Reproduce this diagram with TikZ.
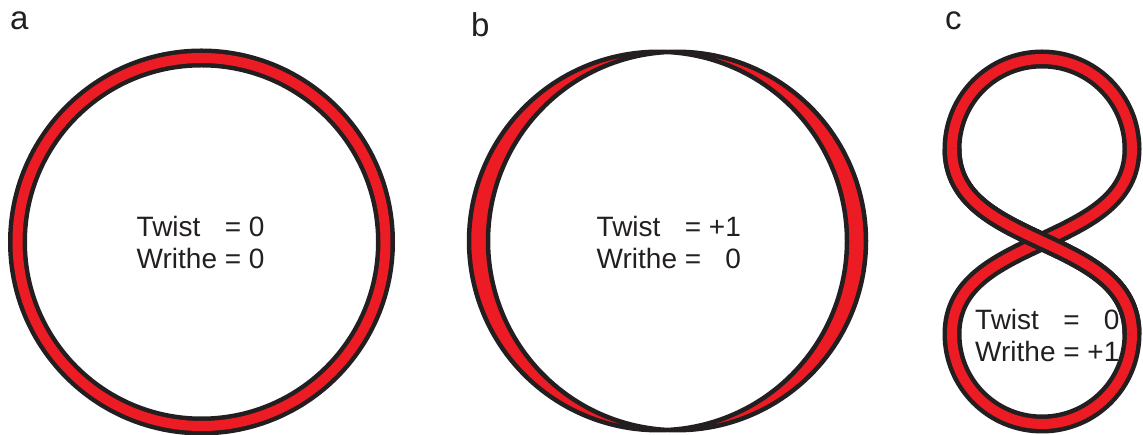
\documentclass[tikz,border=0pt]{standalone}
\usepackage{fontspec}
\setmainfont{Liberation Sans}
\definecolor{ribred}{HTML}{ED1C24}
\definecolor{ink}{HTML}{231F20}

\begin{document}
\begin{tikzpicture}[x=1pt, y=1pt,
    edge/.style={draw=ink, line width=19pt},
    core/.style={draw=ribred, line width=10pt},
    tag/.style={anchor=base west, inner sep=0pt, text=ink, font=\fontsize{33}{36}\selectfont},
    val/.style={anchor=base west, inner sep=0pt, text=ink, font=\fontsize{28}{31.5}\selectfont},
    declare function={tw(\t)=cos(\t);}
]
\useasboundingbox (0,0) rectangle (1143,435);

% a: flat ring
\coordinate (ca) at (201.5,193);
\draw[edge] (ca) circle[radius=184pt];
\draw[core] (ca) circle[radius=184pt];

% b: ring with one twist
\filldraw[fill=ribred, draw=ink, line width=4.5pt, even odd rule]
  plot[domain=0:360, samples=200] ({667.5+(189+9.5*tw(\x))*cos(\x)}, {194+(189+9.5*tw(\x))*sin(\x)}) -- cycle
  plot[domain=0:360, samples=200] ({667.5+(189-9.5*tw(\x))*cos(\x)}, {194+(189-9.5*tw(\x))*sin(\x)}) -- cycle;

% c: figure eight
\coordinate (x8) at (1042,193.5);
\coordinate (ur) at (1132,286);
\coordinate (ut) at (1042,376);
\coordinate (ul) at (952,286);
\coordinate (lr) at (1132,101);
\coordinate (lb) at (1042,11);
\coordinate (ll) at (952,101);
\draw[edge] (x8) to[out=25,in=-90] (ur) to[out=90,in=0] (ut) to[out=180,in=90] (ul) to[out=-90,in=155] (x8)
  to[out=-25,in=90] (lr) to[out=-90,in=0] (lb) to[out=180,in=-90] (ll) to[out=90,in=205] (x8);
\draw[core] (x8) to[out=25,in=-90] (ur) to[out=90,in=0] (ut) to[out=180,in=90] (ul) to[out=-90,in=155] (x8)
  to[out=-25,in=90] (lr) to[out=-90,in=0] (lb) to[out=180,in=-90] (ll) to[out=90,in=205] (x8);
% strand on top at the crossing
\draw[edge] (ul) to[out=-90,in=155] (x8) to[out=-25,in=90] (lr);
\draw[core] (ul) to[out=-90,in=155] (x8) to[out=-25,in=90] (lr);

% labels
\node[tag] (taga) at (10,405) {a};
\node[tag] (tagb) at (471,398) {b};
\node[tag] (tagc) at (945,405) {c};

\node[val] (vala) at (136.5,198) {\begin{tabular}[t]{@{}l@{\ }c@{\ }r@{}}Twist&=&0\\Writhe&=&0\end{tabular}};
\node[val] (valb) at (596.5,198) {\begin{tabular}[t]{@{}l@{\ }c@{\ }r@{}}Twist&=&+1\\Writhe&=&0\end{tabular}};
\node[val] (valc) at (975,105) {\begin{tabular}[t]{@{}l@{\ }c@{\ }r@{}}Twist&=&0\\Writhe&=&+1\end{tabular}};
\end{tikzpicture}
\end{document}
